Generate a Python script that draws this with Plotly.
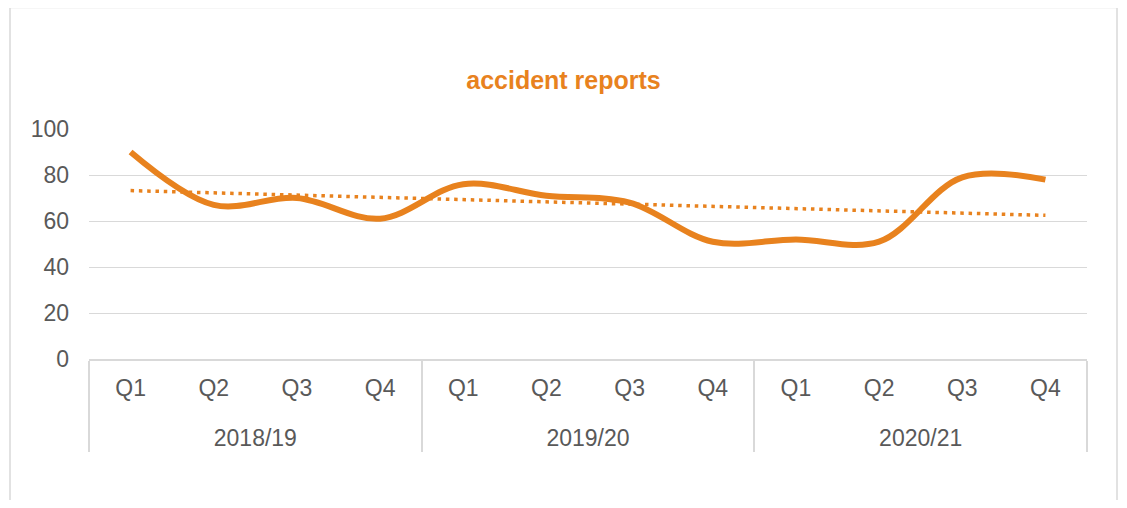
import numpy as np
import plotly.graph_objects as go

years = ["2018/19"] * 4 + ["2019/20"] * 4 + ["2020/21"] * 4
quarters = ["Q1", "Q2", "Q3", "Q4"] * 3
reports = [90, 67, 70, 61, 76, 71, 68, 51, 52, 51, 79, 78]

ORANGE = "#E8821E"
GRID = "#D9D9D9"
TXT = "#595959"

idx = np.arange(len(reports))
slope, intercept = np.polyfit(idx, reports, 1)
trend = list(slope * idx + intercept)

# outer (year) labels pushed one line lower to leave room between the two rows
year_lbl = ["<br>" + y for y in years]

W, H = 1111, 492
L, R, T, B = 81, 32, 121, 141
PW, PH = W - L - R, H - T - B

fig = go.Figure()
fig.add_trace(go.Scatter(
    x=[year_lbl, quarters], y=trend, mode="lines",
    line=dict(color=ORANGE, width=3.5, dash="3.5px,4.8px"),
    hoverinfo="skip", showlegend=False))
fig.add_trace(go.Scatter(
    x=[year_lbl, quarters], y=reports, mode="lines",
    line=dict(color=ORANGE, width=6, shape="spline", smoothing=1.0),
    showlegend=False))

fig.update_layout(
    width=W, height=H,
    margin=dict(l=L, r=R, t=T, b=B),
    paper_bgcolor="white", plot_bgcolor="white",
    font=dict(family="Liberation Sans, Arial, sans-serif", size=23, color=TXT),
    title=dict(text="<b>accident reports</b>", x=0.5, xref="container", xanchor="center",
               y=1 - 72 / H, yanchor="middle",
               font=dict(family="Liberation Sans Narrow, Arial Narrow, Liberation Sans, sans-serif",
                         size=25, color=ORANGE)),
)
fig.update_yaxes(range=[0, 100], dtick=20, showgrid=True, gridcolor=GRID, gridwidth=1,
                 zeroline=False, showline=False, ticks="", ticklabelstandoff=19,
                 tickfont=dict(size=23, color=TXT))
fig.update_xaxes(type="multicategory", range=[-0.5, 11.5], showline=True, linecolor=GRID,
                 linewidth=1.5, showgrid=False, ticks="", showdividers=True,
                 dividercolor=GRID, dividerwidth=1.5, ticklabelstandoff=8,
                 tickfont=dict(size=23, color=TXT))

# outer chart border
fig.add_shape(type="rect", xref="paper", yref="paper",
              x0=(2 - L) / PW, x1=(1109 - L) / PW,
              y0=(T + PH - 520) / PH, y1=(T + PH + 0.5) / PH,
              line=dict(color=GRID, width=1.5), fillcolor="rgba(0,0,0,0)", layer="below")

fig.write_html("out.html")
